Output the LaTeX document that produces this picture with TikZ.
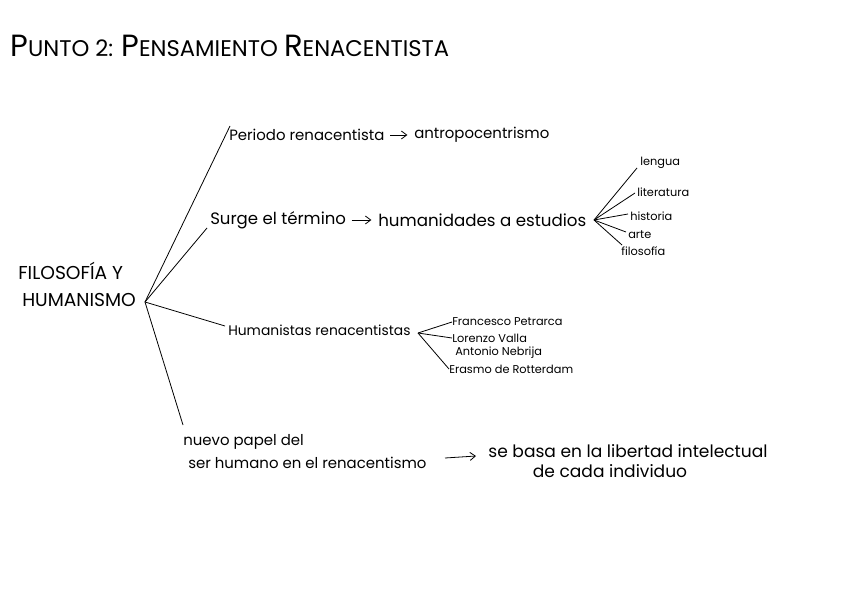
\documentclass[tikz,border=0pt]{standalone}
\usepackage{fontspec}
\setmainfont{Poppins}
\usetikzlibrary{arrows.meta}
\begin{document}
\begin{tikzpicture}[x=0.75pt,y=-0.75pt,
  txt/.style={anchor=west,inner sep=0pt,font=\fontsize{11.2}{13}\selectfont},
  small/.style={anchor=west,inner sep=0pt,font=\fontsize{8.5}{10}\selectfont},
  ln/.style={draw=black,line width=0.6pt},
  arr/.style={ln,-{Straight Barb[length=4pt,width=6pt]},shorten <=4pt,shorten >=5pt}]
\useasboundingbox (0,0) rectangle (848,599);
% title
\node[anchor=west,inner sep=0pt,font=\fontsize{17}{20}\selectfont] (title) at (10,46)
  {{\fontsize{23}{25}\selectfont P}UNTO 2: {\fontsize{23}{25}\selectfont P}ENSAMIENTO {\fontsize{23}{25}\selectfont R}ENACENTISTA};
% root
\node[anchor=west,inner sep=0pt,font=\fontsize{14}{16}\selectfont] (root1) at (18,271) {FILOSOFÍA Y};
\node[anchor=west,inner sep=0pt,font=\fontsize{14}{16}\selectfont] (root2) at (22,300) {HUMANISMO};
\coordinate (root) at (145,302);
% branch 1
\node[txt] (b1) at (229,135) {Periodo renacentista};
\node[txt] (b1r) at (414,135) {antropocentrismo};
\coordinate (b1e) at (230,126);
\draw[ln] (root) -- (b1e);
\draw[arr] (b1) -- (b1r);
% branch 2
\node[txt,font=\fontsize{12.4}{14}\selectfont] (b2) at (210,220) {Surge el término};
\node[txt,font=\fontsize{12.5}{14}\selectfont] (b2r) at (378,220) {humanidades a estudios};
\coordinate (b2e) at (207,228);
\draw[ln] (root) -- (b2e);
\draw[arr] (b2) -- (b2r);
\coordinate (f2) at (594,220);
\node[small] (s1) at (640,163) {lengua};
\node[small] (s2) at (637,192) {literatura};
\node[small] (s3) at (630,216) {historia};
\node[small] (s4) at (628,235) {arte};
\node[small] (s5) at (621,251) {filosofía};
\coordinate (s1e) at (637,168);
\coordinate (s2e) at (635,193);
\coordinate (s3e) at (628,214);
\coordinate (s4e) at (626,232);
\coordinate (s5e) at (622,245);
\foreach \e in {s1e,s2e,s3e,s4e,s5e} \draw[ln] (f2) -- (\e);
% branch 3
\node[txt,font=\fontsize{10.4}{12}\selectfont] (b3) at (228,330) {Humanistas renacentistas};
\coordinate (b3e) at (225,326);
\draw[ln] (root) -- (b3e);
\coordinate (f3) at (418,333);
\node[small] (h1) at (452,322) {Francesco Petrarca};
\node[small] (h2) at (452,338) {Lorenzo Valla};
\node[small] (h3) at (455,353) {Antonio Nebrija};
\node[small] (h4) at (449,369) {Erasmo de Rotterdam};
\draw[ln] (f3) -- (h1.west);
\draw[ln] (f3) -- (h2.west);
\draw[ln] (f3) -- (h4.west);
% branch 4
\node[txt] (b4a) at (183,442) {nuevo papel del};
\node[txt] (b4b) at (188,463) {ser humano en el renacentismo};
\coordinate (b4e) at (183,425);
\draw[ln] (root) -- (b4e);
\node[txt,font=\fontsize{12.8}{15}\selectfont,anchor=center] (b4r1) at (628,451) {se basa en la libertad intelectual};
\node[txt,font=\fontsize{12.8}{15}\selectfont,anchor=center] (b4r2) at (610,471) {de cada individuo};
\coordinate (a4s) at (445,458);
\coordinate (a4e) at (476,456);
\draw[ln,-{Straight Barb[length=4pt,width=6pt]}] (a4s) -- (a4e);
\end{tikzpicture}
\end{document}
